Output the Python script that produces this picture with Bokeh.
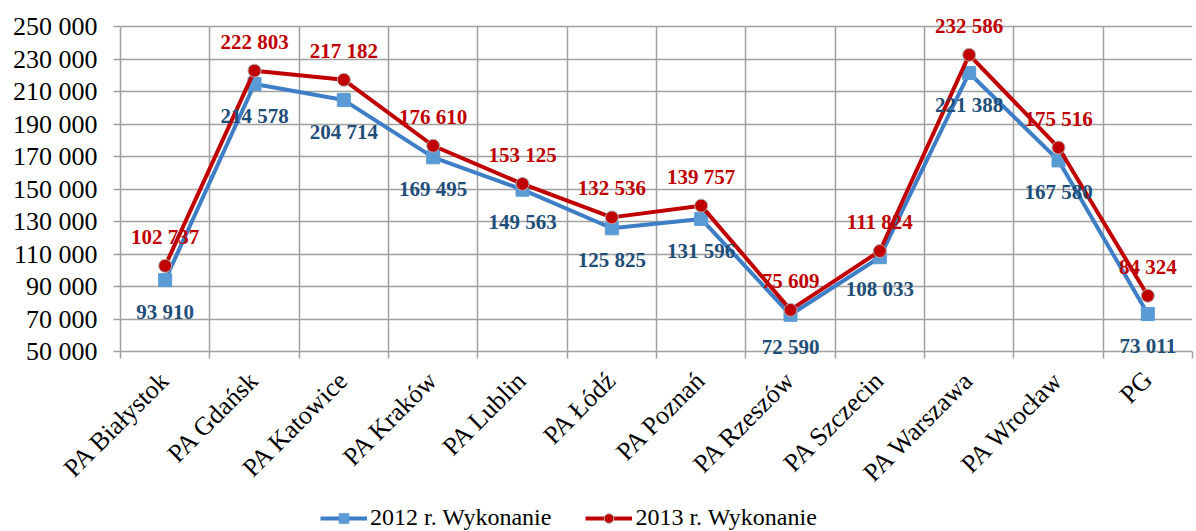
import math
from bokeh.plotting import figure
from bokeh.layouts import column
from bokeh.models import FixedTicker, Legend, LegendItem, ColumnDataSource
from bokeh.core.properties import value
from bokeh.embed import file_html
from bokeh.resources import INLINE

categories = ["PA Białystok", "PA Gdańsk", "PA Katowice", "PA Kraków", "PA Lublin", "PA Łódź",
              "PA Poznań", "PA Rzeszów", "PA Szczecin", "PA Warszawa", "PA Wrocław", "PG"]
values_2012 = [93910, 214578, 204714, 169495, 149563, 125825, 131596, 72590, 108033, 221388, 167580, 73011]
values_2013 = [102737, 222803, 217182, 176610, 153125, 132536, 139757, 75609, 111824, 232586, 175516, 84324]
y_ticks = [50000, 70000, 90000, 110000, 130000, 150000, 170000, 190000, 210000, 230000, 250000]
series_names = ["2012 r. Wykonanie", "2013 r. Wykonanie"]

def fmt(v):
    return "{:,}".format(v).replace(",", " ")

xs = [i + 0.5 for i in range(len(categories))]
bounds = list(range(len(categories) + 1))

FONT = "Liberation Serif"
GRID = "#A0A0A0"
BLUE_LINE, BLUE_MARK, BLUE_TEXT = "#3D7EC6", "#5B9BD5", "#1F4E79"
RED = "#C00000"

# layout (pixels)
W, H = 1196, 531
LEG_H = 28
MAIN_H = H - LEG_H
left, right = 120, 4
axis_top_px, axis_bottom_px = 26, 351        # where 250 000 and 50 000 lie
pad_top, pad_bottom = 10, 7                  # extra frame room so labels are not clipped
ymin, ymax = y_ticks[0], y_ticks[-1]
upp = (ymax - ymin) / (axis_bottom_px - axis_top_px)   # data units per pixel
y_start = ymin - pad_bottom * upp
y_end = ymax + pad_top * upp

p = figure(width=W, height=MAIN_H, x_range=(0, len(categories)), y_range=(y_start, y_end),
           output_backend="svg", toolbar_location=None,
           min_border_left=left, min_border_right=right,
           min_border_top=axis_top_px - pad_top, min_border_bottom=MAIN_H - (axis_bottom_px + pad_bottom))
p.outline_line_color = None

# x axis
p.xaxis.ticker = FixedTicker(ticks=xs, minor_ticks=bounds)
p.xaxis.major_label_overrides = {x: c for x, c in zip(xs, categories)}
p.xaxis.major_tick_line_color = None
p.xaxis.major_tick_in = 0
p.xaxis.major_tick_out = 0
p.xaxis.minor_tick_in = pad_bottom
p.xaxis.minor_tick_out = 0
p.xaxis.minor_tick_line_color = GRID
p.xaxis.minor_tick_line_width = 1.5
p.xaxis.axis_line_color = None
p.xaxis.major_label_orientation = math.pi / 4
p.xaxis.major_label_text_font = FONT
p.xaxis.major_label_text_font_size = "26px"
p.xaxis.major_label_text_color = "#000000"
p.xaxis.major_label_standoff = 17

# y axis
p.yaxis.ticker = FixedTicker(ticks=y_ticks)
p.yaxis.bounds = (ymin, ymax)
p.yaxis.major_label_overrides = {t: fmt(t) for t in y_ticks}
p.yaxis.major_tick_in = 0
p.yaxis.major_tick_out = 7
p.yaxis.minor_tick_line_color = None
p.yaxis.major_tick_line_color = GRID
p.yaxis.axis_line_color = GRID
p.yaxis.axis_line_width = 1.5
p.yaxis.major_tick_line_width = 1.5
p.yaxis.major_label_text_font = FONT
p.yaxis.major_label_text_font_size = "26px"
p.yaxis.major_label_text_color = "#000000"
p.yaxis.major_label_standoff = 16

p.xgrid.ticker = FixedTicker(ticks=bounds)
p.xgrid.cross_bounds = (ymin, ymax)
p.xgrid.grid_line_color = GRID
p.xgrid.grid_line_width = 1.5
p.ygrid.grid_line_color = GRID
p.ygrid.grid_line_width = 1.5

src = ColumnDataSource(dict(x=xs, v12=values_2012, v13=values_2013,
                            l12=[fmt(v) for v in values_2012], l13=[fmt(v) for v in values_2013]))

def draw_series(fig, ycol, color_line, marker, mfill, mline, mlw):
    r_line = fig.line("x", ycol, source=src, line_color=color_line, line_width=4)
    r_mark = fig.scatter("x", ycol, source=src, marker=marker, size=13,
                         fill_color=mfill, line_color=mline, line_width=mlw)
    return r_line, r_mark

draw_series(p, "v12", BLUE_LINE, "square", BLUE_MARK, BLUE_MARK, 1)
draw_series(p, "v13", RED, "circle", RED, "#B0B0B0", 1)

p.text("x", "v12", text="l12", source=src, y_offset=32, text_align="center", text_baseline="middle",
       text_font=value(FONT), text_font_style="bold", text_font_size="21px", text_color=BLUE_TEXT)
p.text("x", "v13", text="l13", source=src, y_offset=-29, text_align="center", text_baseline="middle",
       text_font=value(FONT), text_font_style="bold", text_font_size="21px", text_color=RED)

# legend strip below the chart (its series renderers lie outside its tiny visible range)
lg = figure(width=W, height=LEG_H, x_range=(-100, -99), y_range=(-100, -99), output_backend="svg",
            toolbar_location=None, min_border=0)
lg.axis.visible = False
lg.grid.visible = False
lg.outline_line_color = None
e1, s1 = draw_series(lg, "v12", BLUE_LINE, "square", BLUE_MARK, BLUE_MARK, 1)
e2, s2 = draw_series(lg, "v13", RED, "circle", RED, "#B0B0B0", 1)
legend = Legend(items=[LegendItem(label=series_names[0], renderers=[e1, s1]),
                       LegendItem(label=series_names[1], renderers=[e2, s2])],
                orientation="horizontal", location=(200, 0),
                glyph_width=47, glyph_height=24, label_standoff=3, spacing=34,
                padding=0, margin=0, border_line_color=None, background_fill_alpha=0,
                label_text_font=FONT, label_text_font_size="24px", label_text_color="#000000")
lg.add_layout(legend, "center")

open("out.html", "w").write(file_html(column(p, lg, spacing=0), INLINE))
